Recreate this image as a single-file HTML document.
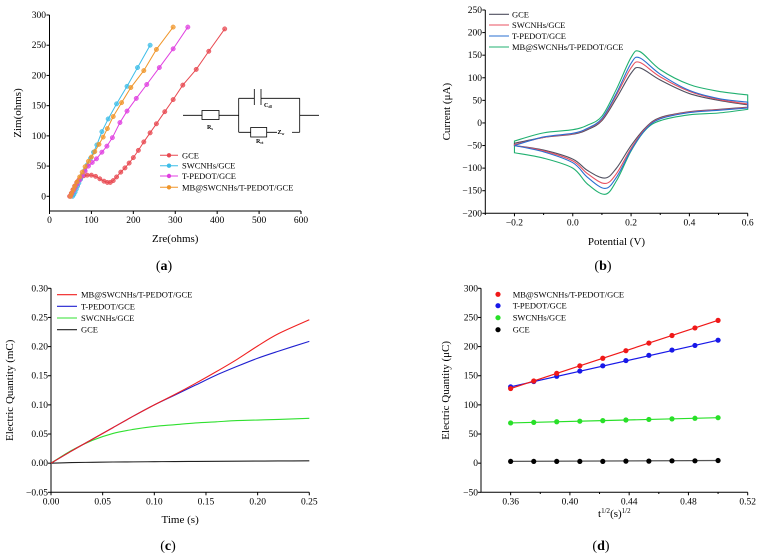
<!DOCTYPE html>
<html><head><meta charset="utf-8">
<style>
body{margin:0;background:#fff;}
svg{display:block;font-family:"Liberation Serif",serif;}
</style></head>
<body>
<svg id="fig" width="762" height="558" viewBox="0 0 762 558"></svg>
<script>
// ===== Panel (a) data: Nyquist =====
const aSeries = ['GCE','SWCNHs/GCE','T-PEDOT/GCE','MB@SWCNHs/T-PEDOT/GCE'];
const aColors = ['#e84850','#3dbde8','#e040e0','#f0962a'];
const aGceX = [48,52,56,60,65,70,75,82,90,100,110,120,130,138,145,152,160,170,180,190,200,212,225,240,255,275,295,318,350,380,418];
const aGceY = [0,5,11,17,23,27,31,34,35,35,33,29,25,23,23,26,32,40,47,55,64,76,90,105,120,140,160,184,210,240,277];
const aSwX = [55,58,61,64,67,70,74,78,84,90,98,105,113,125,140,160,185,210,240];
const aSwY = [0,3,7,12,17,22,28,35,43,52,63,73,85,107,128,153,182,213,250];
const aTpX = [50,53,57,61,66,72,78,85,93,102,112,125,137,150,168,185,207,232,262,295,330];
const aTpY = [0,4,9,14,20,27,34,42,50,56,62,73,83,97,122,141,162,185,213,244,280];
const aMbX = [50,53,57,61,66,72,78,85,93,100,108,118,128,138,152,172,194,225,255,295];
const aMbY = [0,5,11,17,24,32,40,49,58,65,74,86,98,112,132,155,180,208,243,280];
const aXTicks = [0,100,200,300,400,500,600];
const aYTicks = [0,50,100,150,200,250,300];

// ===== Panel (b) data: CV =====
const bSeries = ['GCE','SWCNHs/GCE','T-PEDOT/GCE','MB@SWCNHs/T-PEDOT/GCE'];
const bColors = ['#505060','#e85060','#2a6fd0','#20b070'];
const bFwdE = [-0.2,-0.1,0,0.05,0.1,0.15,0.2,0.23,0.3,0.4,0.5,0.6];
const bRevE = [0.6,0.5,0.4,0.3,0.25,0.2,0.15,0.11,0.05,0,-0.1,-0.2];
const bGceF = [-45,-32,-25,-15,5,55,110,122,95,65,50,40];
const bGceR = [35,30,25,12,-10,-50,-100,-122,-105,-80,-60,-50];
const bSwF = [-48,-32,-24,-13,8,62,122,134,102,70,52,42];
const bSwR = [34,29,24,10,-12,-56,-112,-134,-112,-84,-62,-50];
const bTpF = [-50,-31,-23,-12,10,66,132,144,108,72,54,46];
const bTpR = [33,28,23,9,-14,-60,-120,-145,-120,-88,-64,-50];
const bMbF = [-40,-22,-15,-5,15,75,145,158,118,85,70,62];
const bMbR = [30,22,18,5,-15,-62,-128,-158,-135,-100,-78,-66];
const bXTicks = [-0.2,0,0.2,0.4,0.6];
const bYTicks = [-200,-150,-100,-50,0,50,100,150,200,250];

// ===== Panel (c) data: chronocoulometry =====
const cSeries = ['MB@SWCNHs/T-PEDOT/GCE','T-PEDOT/GCE','SWCNHs/GCE','GCE'];
const cColors = ['#f02020','#2020d0','#30e030','#202020'];
const cT = [0,0.02,0.04,0.06,0.08,0.1,0.12,0.14,0.16,0.18,0.2,0.22,0.25];
const cMb = [0,0.021,0.041,0.061,0.081,0.100,0.118,0.137,0.157,0.178,0.201,0.222,0.246];
const cTp = [0,0.021,0.041,0.061,0.081,0.100,0.117,0.134,0.151,0.166,0.180,0.192,0.209];
const cSw = [0,0.022,0.039,0.051,0.058,0.063,0.066,0.069,0.071,0.073,0.074,0.075,0.077];
const cGce = [0,0.001,0.0015,0.002,0.0022,0.0025,0.0028,0.003,0.0032,0.0034,0.0036,0.0038,0.004];
const cXTicks = [0,0.05,0.10,0.15,0.20,0.25];
const cYTicks = [-0.05,0,0.05,0.10,0.15,0.20,0.25,0.30];

// ===== Panel (d) data: Anson plot =====
const dSeries = ['MB@SWCNHs/T-PEDOT/GCE','T-PEDOT/GCE','SWCNHs/GCE','GCE'];
const dColors = ['#f01818','#1818e8','#28e028','#000000'];
const dX = [0.36,0.3756,0.3911,0.4067,0.4222,0.4378,0.4533,0.4689,0.4844,0.5];
const dMb = [128,141,154,167,180,193,206,219,232,245];
const dTp = [131,140,149,158,167,176,185,194,202,211];
const dSw = [69,70,71,72,73,74,75,76,77,78];
const dGce = [3,3,3,3,3,3.5,3.5,4,4,4.5];
const dXTicks = [0.36,0.40,0.44,0.48,0.52];
const dYTicks = [-50,0,50,100,150,200,250,300];

const NS='http://www.w3.org/2000/svg';
const svg=document.getElementById('fig');
function mk(tag,attrs,parent){const e=document.createElementNS(NS,tag);for(const k in attrs)e.setAttribute(k,attrs[k]);(parent||svg).appendChild(e);return e;}
function lin(d0,d1,r0,r1){return v=>r0+(v-d0)*(r1-r0)/(d1-d0);}
function fmt(v,dec){return v<0?'\u2212'+Math.abs(v).toFixed(dec):v.toFixed(dec);}
function smooth(pts){let d='M'+pts[0][0]+','+pts[0][1];for(let i=0;i<pts.length-1;i++){const p0=pts[i-1]||pts[i],p1=pts[i],p2=pts[i+1],p3=pts[i+2]||p2;const c1x=p1[0]+(p2[0]-p0[0])/6,c1y=p1[1]+(p2[1]-p0[1])/6,c2x=p2[0]-(p3[0]-p1[0])/6,c2y=p2[1]-(p3[1]-p1[1])/6;d+=' C'+c1x+','+c1y+' '+c2x+','+c2y+' '+p2[0]+','+p2[1];}return d;}

function axes(g,name,x0,x1,y0,y1,sx,sy,xt,yt,xdec,ydec,xTitle,yTitle,xtY,ytX,yTitleX){
  const ax=mk('path',{d:`M${x0},${y1}V${y0}H${x1}`,stroke:'#000','stroke-width':1,fill:'none'},g);
  
  
  xt.forEach(v=>{const x=sx(v);mk('line',{x1:x,x2:x,y1:y0,y2:y0+3,stroke:'#000'},g);
    const t=mk('text',{x:x,y:y0+12,'font-size':9.5,'text-anchor':'middle'},g);t.textContent=fmt(v,xdec);
    
    });
  yt.forEach(v=>{const y=sy(v);mk('line',{x1:x0,x2:x0-3,y1:y,y2:y,stroke:'#000'},g);
    const t=mk('text',{x:ytX,y:y+3,'font-size':9.5,'text-anchor':'end'},g);t.textContent=fmt(v,ydec);
    
    });
  const xtl=mk('text',{x:(x0+x1)/2,y:xtY,'font-size':11,'text-anchor':'middle'},g);xtl.innerHTML=xTitle;
  
  
  const ytl=mk('text',{x:yTitleX,y:(y0+y1)/2,'font-size':11,'text-anchor':'middle',transform:`rotate(-90 ${yTitleX} ${(y0+y1)/2})`},g);ytl.innerHTML=yTitle;
  
  
}
function panelLabel(x,y,s){const t=mk('text',{x:x,y:y,'font-size':14,'text-anchor':'middle'});t.innerHTML='(<tspan font-weight="bold">'+s+'</tspan>)';
  
  }

// ---- Panel a ----
{
const g=mk('g',{});


const sx=lin(0,600,49.5,301), sy=lin(0,300,196.3,15);
axes(g,'panel-a',49.5,301,211,15,sx,sy,aXTicks,aYTicks,0,0,'Zre(ohms)','Zim(ohms)',242,46,21);
const xs=[aGceX,aSwX,aTpX,aMbX], ys=[aGceY,aSwY,aTpY,aMbY];
xs.forEach((X,i)=>{
  const p=mk('polyline',{points:X.map((x,j)=>sx(x)+','+sy(ys[i][j])).join(' '),fill:'none',stroke:aColors[i],'stroke-width':1},g);
  
  
  X.forEach((x,j)=>{const c=mk('circle',{cx:sx(x),cy:sy(ys[i][j]),r:2.2,fill:aColors[i],stroke:aColors[i],'stroke-width':0.5,'fill-opacity':0.75},g);
    
    });
});
const ly=[155.3,165.7,176,187.3];
aSeries.forEach((s,i)=>{
  mk('line',{x1:160,x2:178,y1:ly[i],y2:ly[i],stroke:aColors[i]},g);
  mk('circle',{cx:169,cy:ly[i],r:2.2,fill:aColors[i]},g);
  const t=mk('text',{x:182,y:ly[i]+3,'font-size':8.5},g);t.textContent=s;
  
  
});
const ci=mk('g',{stroke:'#000','stroke-width':0.8,fill:'none'},g);


mk('path',{d:'M183,115.3H202M219,115.3H238.7M238.7,98.3V132.3M299.7,98.3V132.3M299.7,115.3H319M238.7,98.3H254.3M261,98.3H299.7M254.3,89V105M261,89V105M238.7,132.3H250.7M266.7,132.3H277'},ci);
mk('rect',{x:202,y:110.5,width:17,height:9},ci);
mk('rect',{x:250.7,y:127.5,width:16,height:9.5},ci);
mk('line',{x1:292,x2:299.7,y1:132.3,y2:132.3},ci);
[['R',207,129,'s'],['C',264,107,'dl'],['R',256,143,'ct'],['Z',277.5,134,'w']].forEach(a=>{
  const t=mk('text',{x:a[1],y:a[2],'font-size':6,'font-weight':'bold'},g);t.innerHTML=a[0]+'<tspan font-size="4" dy="1">'+a[3]+'</tspan>';
  
  
});
panelLabel(164,270,'a');
}

// ---- Panel b ----
{
const g=mk('g',{});


const sx=lin(-0.3,0.6,485.3,747.7), sy=lin(-200,250,213.3,10);
axes(g,'panel-b',485.3,747.7,213.3,10,sx,sy,bXTicks,bYTicks,1,0,'Potential (V)','Current (μA)',245,482,450);
[-0.3,-0.1,0.1,0.3,0.5].forEach(v=>mk('line',{x1:sx(v),x2:sx(v),y1:213.3,y2:215,stroke:'#000'},g));
const F=[bGceF,bSwF,bTpF,bMbF], R=[bGceR,bSwR,bTpR,bMbR];
[3,0,1,2].forEach(i=>{
  const pf=bFwdE.map((e,j)=>[sx(e),sy(F[i][j])]);
  const pr=bRevE.map((e,j)=>[sx(e),sy(R[i][j])]);
  const p=mk('path',{d:smooth(pf)+' L'+pr[0][0]+','+pr[0][1]+' '+smooth(pr).slice(1).replace(/^[^C]*/,'')+' Z',fill:'none',stroke:bColors[i],'stroke-width':1.1},g);
  
  
});
const ly=[14.3,25,36,47];
bSeries.forEach((s,i)=>{
  mk('line',{x1:489,x2:509,y1:ly[i],y2:ly[i],stroke:bColors[i],'stroke-width':1.1},g);
  const t=mk('text',{x:512,y:ly[i]+3,'font-size':8.5},g);t.textContent=s;
  
  
});
panelLabel(603,270,'b');
}

// ---- Panel c ----
{
const g=mk('g',{});


const sx=lin(0,0.25,51,309.3), sy=lin(-0.05,0.30,492.3,288.3);
axes(g,'panel-c',51,309.3,492.3,288.3,sx,sy,cXTicks,cYTicks,2,2,'Time (s)','Electric Quantity (mC)',523,48,13);
const Y=[cMb,cTp,cSw,cGce];
[3,2,1,0].forEach(i=>{
  const p=mk('path',{d:smooth(cT.map((t,j)=>[sx(t),sy(Y[i][j])])),fill:'none',stroke:cColors[i],'stroke-width':1.1},g);
  
  
});
const ly=[294.7,306.3,318,329.7];
cSeries.forEach((s,i)=>{
  mk('line',{x1:57,x2:77,y1:ly[i],y2:ly[i],stroke:cColors[i],'stroke-width':1.1},g);
  const t=mk('text',{x:81,y:ly[i]+3,'font-size':8.5},g);t.textContent=s;
  
  
});
panelLabel(168,550,'c');
}

// ---- Panel d ----
{
const g=mk('g',{});


const sx=lin(0.34,0.52,481,747.7), sy=lin(-50,300,492.3,288.3);
axes(g,'panel-d',481,747.7,492.3,288.3,sx,sy,dXTicks,dYTicks,2,0,'t<tspan font-size="7" dy="-4">1/2</tspan><tspan dy="4">(s)</tspan><tspan font-size="7" dy="-4">1/2</tspan>','Electric Quantity (μC)',517,478,449);
[0.38,0.42,0.46,0.50].forEach(v=>mk('line',{x1:sx(v),x2:sx(v),y1:492.3,y2:494,stroke:'#000'},g));
const Y=[dMb,dTp,dSw,dGce];
[3,2,1,0].forEach(i=>{
  const n=dX.length-1;
  const p=mk('line',{x1:sx(dX[0]),y1:sy(Y[i][0]),x2:sx(dX[n]),y2:sy(Y[i][n]),stroke:dColors[i]==='#000000'?'#555':dColors[i],'stroke-width':1.2},g);
  
  
  dX.forEach((x,j)=>{const c=mk('circle',{cx:sx(x),cy:sy(Y[i][j]),r:2.6,fill:dColors[i]},g);
    
    });
});
const ly=[294.3,305.7,317.7,329.7];
dSeries.forEach((s,i)=>{
  mk('circle',{cx:498,cy:ly[i],r:2.6,fill:dColors[i]},g);
  const t=mk('text',{x:512.7,y:ly[i]+3,'font-size':8.5},g);t.textContent=s;
  
  
});
panelLabel(601,550,'d');
}
</script>
</body></html>
